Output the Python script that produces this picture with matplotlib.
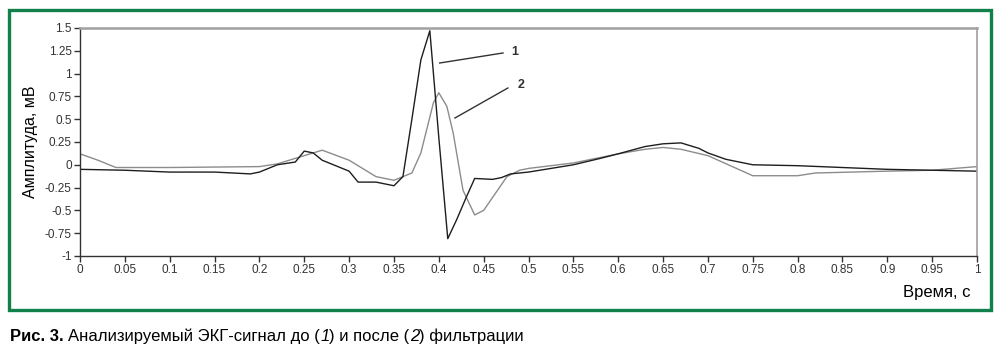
import matplotlib.pyplot as plt
from matplotlib.patches import Rectangle

# ECG signal before filtering (1)
t_raw = [0.0, 0.05, 0.1, 0.15, 0.19, 0.2, 0.22, 0.24, 0.25, 0.26, 0.27, 0.3, 0.31,
         0.33, 0.35, 0.36, 0.37, 0.38, 0.39, 0.40, 0.41, 0.42, 0.43, 0.44, 0.46,
         0.47, 0.48, 0.5, 0.55, 0.58, 0.6, 0.63, 0.65, 0.67, 0.69, 0.7, 0.72, 0.75,
         0.8, 0.85, 0.9, 0.95, 1.0]
v_raw = [-0.05, -0.06, -0.08, -0.08, -0.1, -0.08, 0.0, 0.03, 0.15, 0.13, 0.05, -0.07,
         -0.19, -0.19, -0.23, -0.13, 0.5, 1.15, 1.47, 0.3, -0.81, -0.6, -0.37, -0.15,
         -0.16, -0.14, -0.1, -0.08, 0.0, 0.07, 0.12, 0.2, 0.23, 0.24, 0.18, 0.13, 0.06,
         0.0, -0.01, -0.03, -0.05, -0.06, -0.07]

# ECG signal after filtering (2)
t_flt = [0.0, 0.02, 0.04, 0.1, 0.2, 0.22, 0.25, 0.27, 0.3, 0.33, 0.35, 0.36, 0.37,
         0.38, 0.394, 0.40, 0.409, 0.416, 0.427, 0.44, 0.45, 0.476, 0.49, 0.5,
         0.55, 0.6, 0.63, 0.65, 0.67, 0.7, 0.75, 0.8, 0.82, 0.9, 0.95, 1.0]
v_flt = [0.12, 0.05, -0.03, -0.03, -0.02, 0.01, 0.1, 0.16, 0.05, -0.13, -0.17, -0.13,
         -0.09, 0.13, 0.68, 0.79, 0.64, 0.35, -0.28, -0.55, -0.5, -0.13, -0.06, -0.04,
         0.02, 0.12, 0.17, 0.19, 0.17, 0.1, -0.12, -0.12, -0.09, -0.07, -0.06, -0.02]

xticks = [i * 0.05 for i in range(21)]
xlabels = ['0', '0.05', '0.1', '0.15', '0.2', '0.25', '0.3', '0.35', '0.4', '0.45',
           '0.5', '0.55', '0.6', '0.65', '0.7', '0.75', '0.8', '0.85', '0.9', '0.95', '1']
yticks = [-1, -0.75, -0.5, -0.25, 0, 0.25, 0.5, 0.75, 1, 1.25, 1.5]
ylabels = ['-1', '-0.75', '-0.5', '-0.25', '0', '0.25', '0.5', '0.75', '1', '1.25', '1.5']

caption = [('Рис. 3. ', 'bold', 'normal'), ('Анализируемый ЭКГ-сигнал до (', 'normal', 'normal'),
           ('1', 'normal', 'italic'), (') и после (', 'normal', 'normal'),
           ('2', 'normal', 'italic'), (') фильтрации', 'normal', 'normal')]

plt.rcParams['font.family'] = ['Liberation Sans', 'DejaVu Sans']

fig = plt.figure(figsize=(10, 3.57), dpi=100)
ax = fig.add_axes([0.08, 0.283, 0.897, 0.6386])

ax.plot(t_flt, v_flt, color='#8c8c8c', lw=1.0)
ax.plot(t_raw, v_raw, color='#1e1e1e', lw=1.0)

ax.set_xlim(0, 1)
ax.set_ylim(-1, 1.5)
ax.set_xticks(xticks)
ax.set_xticklabels(xlabels)
ax.set_yticks(yticks)
ax.set_yticklabels(ylabels)
ax.tick_params(direction='out', length=4, width=1, colors='#333333', labelsize=8.5, pad=2)

for side in ['left', 'bottom']:
    ax.spines[side].set_color('#333333')
    ax.spines[side].set_linewidth(1.0)
ax.spines['top'].set_color('#a0a0a0')
ax.spines['top'].set_linewidth(1.8)
ax.spines['right'].set_color('#a0a0a0')
ax.spines['right'].set_linewidth(1.2)

ax.set_ylabel('Амплитуда, мВ', fontsize=11.5, labelpad=5)
ax.text(0.993, -0.162, 'Время, с', transform=ax.transAxes, ha='right', va='center',
        fontsize=12)

# callout labels
ax.plot([0.401, 0.4716], [1.116, 1.226], color='#333333', lw=1.0)
ax.text(0.481, 1.24, '1', fontsize=9, fontweight='bold', va='center', color='#333333')
ax.plot([0.418, 0.477], [0.513, 0.842], color='#333333', lw=1.0)
ax.text(0.488, 0.87, '2', fontsize=9, fontweight='bold', va='center', color='#333333')

# green frame
fig.patches.append(Rectangle((0.009, 0.1317), 0.982, 0.840, transform=fig.transFigure,
                             fill=False, edgecolor='#11804a', lw=2.4))

# caption, pieces placed one after another
fig.canvas.draw()
r = fig.canvas.get_renderer()
x = 10
for s, w, st in caption:
    txt = fig.text(x / 1000, 0.058, s, fontsize=12, fontweight=w, style=st, va='center')
    x += txt.get_window_extent(renderer=r).width

fig.savefig('out.png', dpi=100)
